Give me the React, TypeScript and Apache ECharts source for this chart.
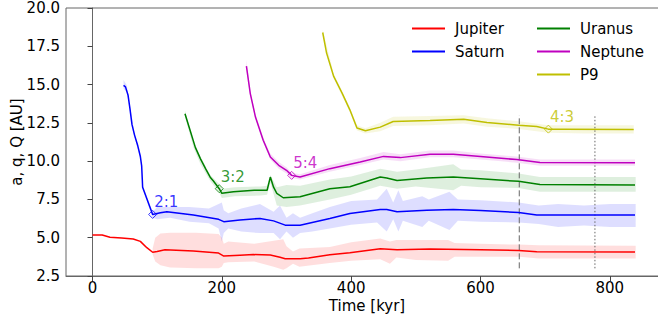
import React, { useEffect, useRef } from "react";
import * as echarts from "echarts";

const FONT = "DejaVu Sans";

const planetNames = ["Jupiter", "Saturn", "Uranus", "Neptune", "P9"];
const planetColors = ["#ff0000", "#0000ff", "#008000", "#bf00bf", "#bfbf00"];

// semi-major axis a (time [kyr], a [AU])
const jupiterA = [
  [0, 5.18], [15, 5.18], [27, 5.03], [45, 4.98], [63, 4.92], [74, 4.76], [84, 4.35], [93, 4.05],
  [100, 4.1], [112, 4.22], [156, 4.14], [195, 4.0], [203, 3.8], [228, 3.86], [249, 3.9], [275, 3.87],
  [290, 3.72], [298, 3.63], [321, 3.63], [334, 3.68], [367, 3.88], [398, 4.02], [445, 4.28],
  [471, 4.22], [522, 4.27], [600, 4.22], [659, 4.17], [687, 4.08], [839, 4.06],
];
const saturnA = [
  [48, 14.95], [51, 14.85], [55, 14.3], [58, 13.4], [61, 12.4], [65, 11.7], [70, 11.0], [74, 10.3],
  [76, 9.7], [77, 8.8], [77.5, 8.3], [93, 6.52], [105, 6.63], [115, 6.7], [156, 6.48], [195, 6.2],
  [203, 6.05], [228, 6.16], [259, 6.26], [280, 6.1], [298, 5.82], [321, 5.82], [367, 6.26],
  [398, 6.58], [445, 6.84], [455, 6.84], [471, 6.7], [517, 6.8], [558, 6.84], [600, 6.78],
  [659, 6.65], [687, 6.48], [839, 6.48],
];
const uranusA = [
  [143, 13.1], [151, 12.0], [159, 10.9], [167, 10.15], [175, 9.5], [182, 8.95], [187, 8.7],
  [196, 8.2], [200, 7.9], [218, 8.0], [250, 8.1], [270, 8.1], [275, 8.96], [280, 8.3], [285, 7.9],
  [295, 7.61], [321, 7.67], [367, 8.2], [398, 8.33], [445, 8.96], [455, 8.9], [471, 8.74],
  [517, 8.9], [558, 8.96], [600, 8.85], [659, 8.68], [692, 8.48], [839, 8.45],
];
const neptuneA = [
  [238, 16.2], [244, 14.41], [252, 12.88], [264, 11.36], [275, 10.27], [288, 9.73], [300, 9.4],
  [308, 9.07], [321, 8.96], [367, 9.51], [414, 9.94], [450, 10.31], [476, 10.23], [522, 10.45],
  [558, 10.45], [600, 10.3], [656, 10.1], [692, 9.91], [839, 9.9],
];
const p9A = [
  [356, 18.4], [362, 17.06], [373, 15.53], [386, 14.44], [398, 13.35], [409, 12.16], [422, 11.98],
  [445, 12.22], [465, 12.59], [522, 12.65], [574, 12.74], [610, 12.52], [659, 12.35], [687, 12.26],
  [705, 12.09], [728, 12.09], [837, 12.06],
];

// q..Q range (time, q, Q)
const jupiterBand = [
  [93, 3.9, 4.3], [97, 3.45, 5.0], [105, 3.2, 5.28], [120, 3.05, 5.33], [160, 3.0, 5.33],
  [195, 3.0, 5.25], [200, 3.1, 5.0], [203, 3.35, 4.6], [210, 3.4, 4.75], [250, 3.45, 4.6],
  [280, 3.1, 4.8], [295, 2.9, 4.9], [300, 3.0, 4.45], [310, 3.3, 4.1], [320, 3.1, 4.3],
  [367, 3.35, 4.4], [400, 3.5, 4.7], [445, 3.6, 4.95], [460, 3.3, 4.75], [470, 3.7, 4.85],
  [500, 3.55, 4.85], [550, 3.5, 4.85], [560, 3.75, 4.65], [600, 3.75, 4.6], [660, 3.75, 4.55],
  [690, 3.65, 4.5], [840, 3.65, 4.48],
];
const saturnBand = [
  [48, 14.75, 15.3], [53, 14.5, 14.95], [58, 13.25, 13.6], [65, 11.55, 11.85], [74, 10.15, 10.45],
  [77.5, 8.2, 8.45], [93, 6.3, 6.7], [100, 6.2, 7.0], [120, 6.3, 7.0], [150, 6.05, 7.0],
  [180, 5.95, 6.9], [195, 5.6, 7.2], [200, 4.75, 7.3], [203, 5.3, 6.8], [210, 5.6, 6.6],
  [230, 5.4, 6.9], [259, 5.3, 7.2], [280, 5.3, 6.7], [290, 4.9, 7.1], [300, 5.4, 6.3],
  [310, 5.0, 6.6], [321, 5.3, 6.3], [340, 5.4, 6.6], [367, 5.6, 7.0], [400, 5.85, 7.4],
  [440, 6.0, 7.5], [455, 5.4, 8.2], [465, 6.2, 7.3], [473, 5.4, 8.1], [480, 6.1, 7.4],
  [510, 5.7, 7.7], [520, 6.1, 7.5], [552, 5.5, 8.0], [565, 6.1, 7.5], [600, 6.05, 7.45],
  [659, 6.0, 7.3], [690, 5.9, 7.1], [720, 5.7, 7.2], [760, 5.8, 7.1], [800, 5.7, 7.2],
  [840, 5.7, 7.2],
];
const uranusBand = [
  [143, 12.9, 13.3], [156, 10.9, 11.3], [167, 9.8, 10.3], [182, 8.7, 9.1], [196, 7.95, 8.5],
  [200, 7.6, 8.2], [220, 7.7, 8.3], [260, 7.75, 8.35], [270, 7.8, 8.4], [275, 8.6, 9.1],
  [285, 7.1, 8.3], [300, 7.0, 8.45], [321, 7.1, 8.4], [367, 7.5, 8.8], [400, 7.8, 9.0],
  [445, 8.4, 9.5], [471, 8.2, 9.3], [500, 8.35, 9.45], [558, 8.1, 9.8], [570, 8.4, 9.45],
  [600, 8.3, 9.4], [659, 8.25, 9.2], [692, 8.0, 8.96], [760, 8.0, 8.96], [840, 8.0, 8.96],
];
const neptuneBand = [
  [238, 16.0, 16.6], [244, 14.3, 14.6], [252, 12.75, 13.05], [264, 11.2, 11.55], [275, 10.1, 10.5],
  [288, 9.5, 9.95], [300, 9.2, 9.6], [308, 8.9, 9.25], [321, 8.8, 9.15], [367, 9.3, 9.75],
  [414, 9.75, 10.2], [450, 10.1, 10.6], [476, 10.0, 10.45], [522, 10.25, 10.7], [558, 10.25, 10.7],
  [600, 10.1, 10.5], [656, 9.9, 10.3], [692, 9.7, 10.1], [760, 9.7, 10.1], [839, 9.7, 10.1],
];
const p9Band = [
  [356, 18.2, 18.6], [373, 15.4, 15.7], [398, 13.2, 13.5], [409, 12.0, 12.35], [422, 11.8, 12.15],
  [445, 11.95, 12.5], [465, 12.3, 12.9], [522, 12.35, 12.95], [574, 12.45, 13.0], [610, 12.25, 12.8],
  [659, 12.1, 12.6], [705, 11.85, 12.35], [760, 11.8, 12.35], [837, 11.8, 12.35],
];

// resonance markers
const resonanceT = [93, 196, 308, 705];
const resonanceA = [6.52, 8.2, 9.07, 12.09];
const resonanceLabels = ["2:1", "3:2", "5:4", "4:3"];
const resonancePlanet = [1, 2, 3, 4];

// vertical reference lines
const dashedLineT = 660;
const dottedLineT = 777;
const refLineRange = [3.0, 13.0];

const xTicks = [0, 200, 400, 600, 800];

const lines = [jupiterA, saturnA, uranusA, neptuneA, p9A];
const bands = [jupiterBand, saturnBand, uranusBand, neptuneBand, p9Band];

function bandSeries(name: string, rows: number[][], color: string) {
  return {
    type: "custom",
    name,
    data: rows,
    encode: { x: 0, y: [1, 2] },
    silent: true,
    z: 1,
    renderItem: (params: any, api: any) => {
      if (params.dataIndex !== 0) return null;
      const upper = rows.map((r) => api.coord([r[0], r[2]]));
      const lower = rows.map((r) => api.coord([r[0], r[1]])).reverse();
      return {
        type: "polygon",
        shape: { points: upper.concat(lower) },
        style: { fill: color, opacity: 0.13 },
        silent: true,
      };
    },
  };
}

export default function App() {
  const ref = useRef<HTMLDivElement>(null);
  useEffect(() => {
    document.body.style.margin = "0";
    if (!ref.current) return;
    const chart = echarts.init(ref.current, null, { renderer: "svg" });
    const series: any[] = [];
    bands.forEach((b, i) => series.push(bandSeries(planetNames[i] + " band", b, planetColors[i])));
    lines.forEach((l, i) =>
      series.push({
        type: "line",
        name: planetNames[i],
        data: l,
        showSymbol: false,
        z: 3,
        lineStyle: { color: planetColors[i], width: 1.5 },
        itemStyle: { color: planetColors[i] },
      })
    );
    series.push({
      type: "line",
      name: "dashed",
      data: [[dashedLineT, refLineRange[0]], [dashedLineT, refLineRange[1]]],
      showSymbol: false,
      z: 2,
      lineStyle: { color: "#666", width: 1, type: [6, 3] },
    });
    series.push({
      type: "line",
      name: "dotted",
      data: [[dottedLineT, refLineRange[0]], [dottedLineT, refLineRange[1]]],
      showSymbol: false,
      z: 2,
      lineStyle: { color: "#666", width: 1, type: [1.5, 2] },
    });
    series.push({
      type: "scatter",
      name: "resonances",
      symbol: "diamond",
      symbolSize: 8,
      z: 4,
      data: resonanceT.map((t, i) => ({
        value: [t, resonanceA[i]],
        itemStyle: {
          color: "rgba(0,0,0,0)",
          borderColor: planetColors[resonancePlanet[i]],
          borderWidth: 1,
        },
        label: {
          show: true,
          formatter: resonanceLabels[i],
          position: "right",
          distance: 0,
          offset: [-3, -12],
          color: planetColors[resonancePlanet[i]],
          fontSize: 15,
          fontFamily: FONT,
        },
      })),
    });

    const legendCommon = {
      orient: "vertical",
      top: 21,
      padding: 0,
      itemWidth: 33,
      itemHeight: 2,
      itemGap: 8,
      icon: "rect",
      textStyle: { fontSize: 15, fontFamily: FONT, color: "#000", lineHeight: 15, padding: [0, 0, 0, 5] },
    };

    chart.setOption({
      animation: false,
      backgroundColor: "#fff",
      grid: {
        left: 66,
        top: 8,
        bottom: 44,
        right: -10,
        outerBoundsMode: "none",
        containLabel: false,
        show: true,
        borderColor: "#666",
        borderWidth: 1,
        backgroundColor: "transparent",
      },
      legend: [
        { ...legendCommon, left: 412, data: ["Jupiter", "Saturn"] },
        { ...legendCommon, left: 537, data: ["Uranus", "Neptune", "P9"] },
      ],
      xAxis: {
        type: "value",
        min: -41,
        max: 890,
        name: "Time [kyr]",
        nameLocation: "middle",
        nameGap: 22,
        nameMoveOverlap: false,
        nameTextStyle: { fontSize: 15, fontFamily: FONT, color: "#000" },
        axisLine: { lineStyle: { color: "#666", width: 1 } },
        axisTick: { show: true, length: 5, lineStyle: { color: "#444" }, customValues: xTicks },
        axisLabel: { fontSize: 15, fontFamily: FONT, color: "#000", margin: 4, customValues: xTicks },
        splitLine: { show: false },
      },
      yAxis: {
        type: "value",
        min: 2.5,
        max: 20,
        interval: 2.5,
        name: "a, q, Q [AU]",
        nameLocation: "middle",
        nameGap: 42,
        nameMoveOverlap: false,
        nameTextStyle: { fontSize: 15, fontFamily: FONT, color: "#000" },
        axisLine: { show: true, lineStyle: { color: "#666", width: 1 } },
        axisTick: { show: true, length: 5, lineStyle: { color: "#444" } },
        axisLabel: {
          fontSize: 15,
          fontFamily: FONT,
          color: "#000",
          margin: 6,
          formatter: (v: number) => v.toFixed(1),
        },
        splitLine: { show: false },
      },
      series,
    });
    return () => chart.dispose();
  }, []);
  return <div ref={ref} style={{ width: 658, height: 320 }} />;
}
